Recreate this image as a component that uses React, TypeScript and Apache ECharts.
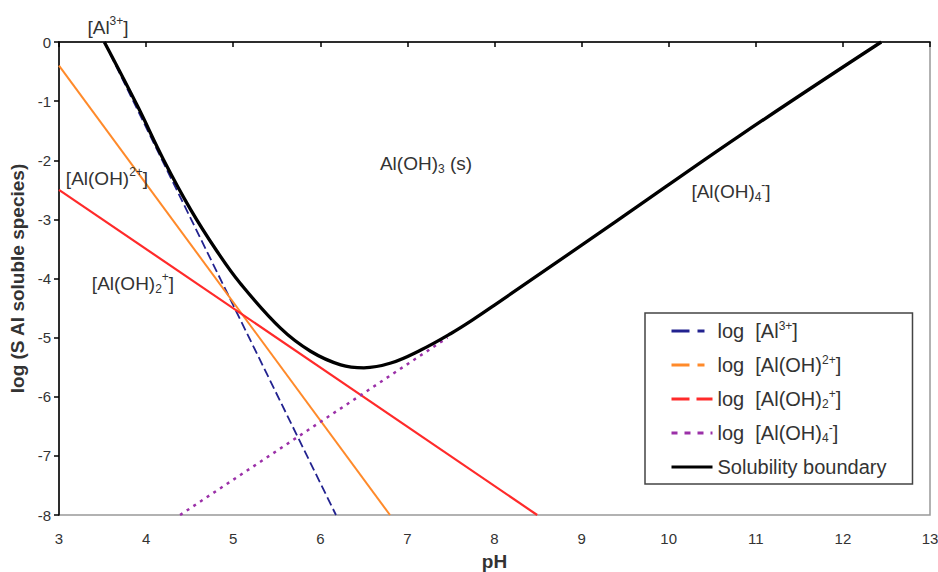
import React, { useEffect, useRef } from "react";
import * as echarts from "echarts";

// pH / log concentration pairs
const al3Points = [[3.52, 0], [6.18, -8]];
const alOH2Points = [[3.0, -0.4], [6.8, -8]];
const alOH2pPoints = [[3.0, -2.5], [8.49, -8]];
const alOH4Points = [[4.39, -8], [7.46, -5.0]];
const boundaryPoints = [
  [3.52, 0], [3.9, -1.08], [4.2, -1.99], [4.51, -2.83], [4.81, -3.53],
  [5.08, -4.08], [5.543, -4.84], [5.888, -5.23], [6.234, -5.46], [6.5, -5.51],
  [6.81, -5.43], [7.154, -5.21], [7.5, -4.93], [7.77, -4.68], [8.0, -4.45],
  [9.4, -3.03], [10.8, -1.6], [12.44, 0],
];

const seriesNames = [
  "log [Al3+]",
  "log [AlOH2+]",
  "log [Al(OH)2+]",
  "log [Al(OH)4-]",
  "Solubility boundary",
];
const legendRich = [
  "log  [Al{sup|3+}]",
  "log  [Al(OH){sup|2+}]",
  "log  [Al(OH){sub|2}{sup|+}]",
  "log  [Al(OH){sub|4}{sup|-}]",
  "Solubility boundary",
];

const FONT = "'Liberation Sans', Arial, sans-serif";
const TXT = "#333";

export default function App() {
  const ref = useRef<HTMLDivElement>(null);
  useEffect(() => {
    if (!ref.current) return;
    const chart = echarts.init(ref.current, undefined, { renderer: "svg" });
    const annoRich = {
      sup: { fontSize: 12, lineHeight: 12, verticalAlign: "top", fontFamily: FONT, fill: TXT },
      sub: { fontSize: 12, lineHeight: 12, verticalAlign: "bottom", fontFamily: FONT, fill: TXT },
    };
    const anno = (text: string, x: number, y: number) => ({
      type: "text",
      x,
      y,
      z: 100,
      style: {
        text,
        rich: annoRich,
        fontSize: 19,
        lineHeight: 24,
        fontFamily: FONT,
        fill: TXT,
        align: "center",
        verticalAlign: "middle",
      },
    });
    const line = (name: string, data: number[][], color: string, width: number, type: any) => ({
      name,
      type: "line",
      data,
      symbol: "none",
      showSymbol: false,
      lineStyle: { color, width, type },
      itemStyle: { color },
      z: 3,
    });
    chart.setOption({
      animation: false,
      grid: {
        left: 59,
        right: 8,
        top: 42,
        bottom: 57,
        outerBoundsMode: "none",
        containLabel: false,
        show: true,
        borderColor: "#999",
        borderWidth: 1.5,
      },
      xAxis: {
        type: "value",
        min: 3,
        max: 13,
        interval: 1,
        name: "pH",
        nameLocation: "middle",
        nameGap: 37,
        nameTextStyle: { fontFamily: FONT, fontWeight: "bold", fontSize: 19, color: TXT },
        axisLine: { lineStyle: { color: "#000", width: 1.5 } },
        axisTick: { show: true, length: 5, lineStyle: { color: "#000", width: 1.5 } },
        axisLabel: { fontFamily: FONT, fontSize: 15, color: TXT, margin: 16 },
        splitLine: { show: false },
      },
      yAxis: {
        type: "value",
        min: -8,
        max: 0,
        interval: 1,
        name: "log (S Al soluble species)",
        nameLocation: "middle",
        nameGap: 31,
        nameTextStyle: { fontFamily: FONT, fontWeight: "bold", fontSize: 19, color: TXT },
        axisLine: { lineStyle: { color: "#000", width: 1.5 } },
        axisTick: { show: true, length: 5, lineStyle: { color: "#000", width: 1.5 } },
        axisLabel: { fontFamily: FONT, fontSize: 15, color: TXT, margin: 8 },
        splitLine: { show: false },
      },
      legend: {
        orient: "vertical",
        left: 645,
        top: 313,
        padding: [7, 26, 6, 25],
        itemGap: 12,
        itemWidth: 41,
        itemHeight: 14,
        borderColor: "#444",
        borderWidth: 1.5,
        backgroundColor: "#fff",
        itemStyle: { opacity: 0 },
        data: [
          { name: seriesNames[0], lineStyle: { type: [18, 8, 7, 100], width: 3 } },
          { name: seriesNames[1], lineStyle: { type: [18, 8, 7, 100], width: 3 } },
          { name: seriesNames[2], lineStyle: { type: [18, 7, 16, 100], width: 3 } },
          { name: seriesNames[3], lineStyle: { type: [6, 7], width: 3 } },
          { name: seriesNames[4], lineStyle: { width: 3 } },
        ],
        formatter: (name: string) => legendRich[seriesNames.indexOf(name)],
        textStyle: {
          fontFamily: FONT,
          fontSize: 20,
          lineHeight: 22,
          color: TXT,
          rich: {
            sup: { fontSize: 12, lineHeight: 12, verticalAlign: "top", fontFamily: FONT, color: TXT },
            sub: { fontSize: 12, lineHeight: 12, verticalAlign: "bottom", fontFamily: FONT, color: TXT },
          },
        },
      },
      graphic: [
        anno("[Al{sup|3+}]", 108, 27),
        anno("[Al(OH){sup|2+}]", 107, 178),
        anno("[Al(OH){sub|2}{sup|+}]", 133, 283),
        anno("Al(OH){sub|3} (s)", 426, 163),
        anno("[Al(OH){sub|4}{sup|-}]", 731, 191),
      ],
      series: [
        line(seriesNames[0], al3Points, "#22228f", 1.8, [9, 4]),
        line(seriesNames[1], alOH2Points, "#ff8a2a", 2, "solid"),
        line(seriesNames[2], alOH2pPoints, "#ff2a2a", 2.2, "solid"),
        line(seriesNames[3], alOH4Points, "#9b30a8", 2.5, [3, 5]),
        { ...line(seriesNames[4], boundaryPoints, "#000", 3.3, "solid"), smooth: 0.4, z: 4 },
      ],
    });
    return () => chart.dispose();
  }, []);
  return (
    <div
      ref={ref}
      style={{ position: "fixed", left: 0, top: 0, width: 938, height: 572, background: "#fff" }}
    />
  );
}
